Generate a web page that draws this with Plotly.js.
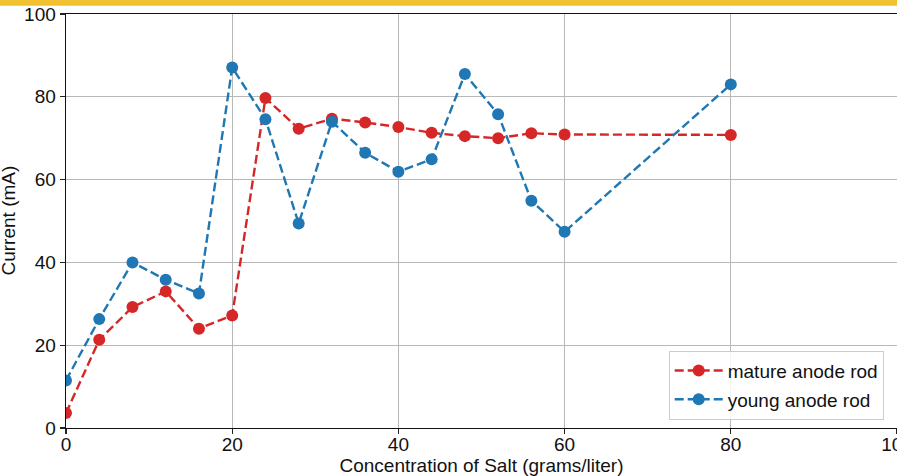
<!DOCTYPE html>
<html>
<head>
<meta charset="utf-8">
<script src="https://cdn.plot.ly/plotly-3.0.1.min.js"></script>
<style>html,body{margin:0;padding:0;background:#fff;} #chart{width:897px;height:476px;}</style>
</head>
<body>
<div id="chart"></div>
<script>
const concentration = [0, 4, 8, 12, 16, 20, 24, 28, 32, 36, 40, 44, 48, 52, 56, 60, 80];
const matureCurrent = [3.6, 21.3, 29.2, 33.0, 24.0, 27.2, 79.7, 72.3, 74.7, 73.8, 72.7, 71.3, 70.5, 70.0, 71.2, 70.9, 70.8];
const youngCurrent  = [11.5, 26.3, 40.0, 35.8, 32.5, 87.1, 74.6, 49.4, 74.0, 66.5, 61.9, 64.9, 85.5, 75.8, 54.9, 47.4, 83.0];
const seriesNames = ["mature anode rod", "young anode rod"];
const tickVals = [0, 20, 40, 60, 80, 100];
const xTitle = "Concentration of Salt (grams/liter)";
const yTitle = "Current (mA)";

const font = {family: "Liberation Sans, Arial, sans-serif", size: 19, color: "#111"};

const traces = [
  {x: concentration, y: matureCurrent, name: seriesNames[0], legendgroup: "a", type: "scatter", mode: "lines+markers",
   line: {color: "#d62728", width: 2.4, dash: "9px,4px"}, marker: {color: "#d62728", size: 12}},
  {x: concentration, y: youngCurrent, name: seriesNames[1], legendgroup: "b", type: "scatter", mode: "lines+markers",
   line: {color: "#1f77b4", width: 2.4, dash: "9px,4px"}, marker: {color: "#1f77b4", size: 12}}
];

const axisCommon = {
  showgrid: true, gridcolor: "#b8b8b8", gridwidth: 1,
  showline: true, linecolor: "#111", linewidth: 1.4, mirror: true,
  ticks: "outside", ticklen: 5, tickwidth: 1.3, tickcolor: "#222",
  zeroline: false, tickfont: font, tickvals: tickVals, ticktext: tickVals.map(String),
  ticklabeloverflow: "allow"
};

const layout = {
  width: 897, height: 476,
  margin: {l: 66, r: 0, t: 14, b: 48},
  paper_bgcolor: "#fff", plot_bgcolor: "#fff",
  font: font,
  showlegend: true,
  legend: {x: 0.984, y: 0.02, xanchor: "right", yanchor: "bottom",
           bordercolor: "#cccccc", borderwidth: 1, bgcolor: "rgba(255,255,255,0.85)",
           font: font, traceorder: "grouped", tracegroupgap: 1, itemwidth: 48},
  xaxis: Object.assign({}, axisCommon, {range: [0, 100], ticklabelstandoff: -6,
           title: {text: xTitle, font: font}}),
  yaxis: Object.assign({}, axisCommon, {range: [0, 100]}),
  annotations: [
    {text: yTitle, xref: "paper", yref: "paper", x: -70 / 831, y: 0.5, xanchor: "left", yanchor: "middle",
     textangle: -90, showarrow: false, font: font, borderpad: 0}
  ],
  shapes: [
    {type: "rect", xref: "paper", yref: "paper", x0: -0.2, x1: 1.2,
     y0: (428 - 5.7) / 414, y1: 1.1, fillcolor: "#f0c232", line: {width: 0}, layer: "above"}
  ]
};

Plotly.newPlot("chart", traces, layout, {displayModeBar: false, staticPlot: true});
</script>
</body>
</html>
